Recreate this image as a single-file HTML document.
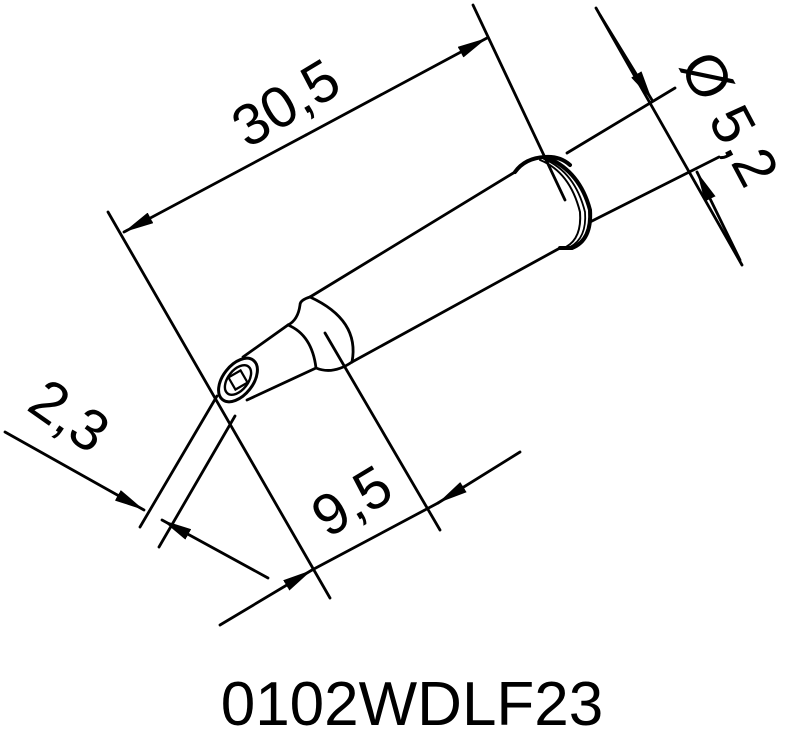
<!DOCTYPE html>
<html><head><style>html,body{margin:0;padding:0;background:#fff}svg{display:block}</style></head><body>
<svg width="800" height="750" viewBox="0 0 800 750" xmlns="http://www.w3.org/2000/svg">
<defs>
<marker id="a" markerWidth="30" markerHeight="12" refX="30" refY="6" orient="auto" markerUnits="userSpaceOnUse">
<path d="M0,0 L30,6 L0,12 Z" fill="#000"/>
</marker>
</defs>
<g stroke="#000" stroke-width="2.8" fill="none" stroke-linecap="round">
<!-- 30,5 -->
<line x1="108" y1="212" x2="330" y2="598"/>
<line x1="473" y1="5" x2="565" y2="200"/>
<line x1="306" y1="135" x2="487" y2="38" marker-end="url(#a)"/>
<line x1="306" y1="135" x2="124" y2="232" marker-end="url(#a)"/>
<!-- shaft -->
<path d="M310,297 L515,172"/>
<path d="M352,362 L560,248"/>
<path d="M567,153 L675,88"/>
<path d="M590,222 L719,157"/>
<path d="M515,172 Q525,158 545,157 Q560,156 570,165" stroke-width="4"/>
<path d="M548,158 Q580,172 590,210 Q592,240 572,248 L560,248" stroke-width="4"/>
<path d="M540,160 Q570,172 580,212 Q582,238 566,247" stroke-width="2"/>
<path d="M544,159 Q575,172 585,212 Q587,238 570,247" stroke-width="1.8"/>
<path d="M310,297 Q360,320 352,362"/>
<path d="M310,297 Q300,300 300,305 Q298,320 288,325 L243,357"/>
<path d="M288,325 Q312,335 316,368 Q333,375 352,362"/>
<path d="M316,368 L247,400"/>
<path d="M325,333 L440,530"/>
<!-- tip face -->
<ellipse cx="238" cy="380" rx="25" ry="15" transform="rotate(-52 238 380)" stroke-width="3"/>
<ellipse cx="238" cy="380" rx="17" ry="10" transform="rotate(-52 238 380)" stroke-width="2.4"/>
<rect x="231" y="373" width="14" height="14" transform="rotate(-30 238 380)" stroke-width="2.2"/>
<!-- 9,5 -->
<line x1="220" y1="625" x2="312" y2="570" marker-end="url(#a)"/>
<line x1="520" y1="452" x2="438" y2="503" marker-end="url(#a)"/>
<line x1="312" y1="570" x2="438" y2="503"/>
<!-- 2,3 -->
<line x1="217" y1="396" x2="140" y2="527"/>
<line x1="235" y1="416" x2="159" y2="547"/>
<line x1="5" y1="432" x2="144" y2="510" marker-end="url(#a)"/>
<line x1="268" y1="578" x2="162" y2="520" marker-end="url(#a)"/>
<!-- Ø5,2 -->
<line x1="596" y1="8" x2="742" y2="265"/>
<line x1="600" y1="15" x2="652" y2="100" marker-end="url(#a)"/>
<line x1="740" y1="260" x2="697" y2="172" marker-end="url(#a)"/>
</g>
<g font-family="Liberation Sans, sans-serif" fill="#000">
<text x="296" y="120" font-size="58" text-anchor="middle" transform="rotate(-31 296 120)">30,5</text>
<text x="362" y="518" font-size="58" text-anchor="middle" transform="rotate(-31 362 518)">9,5</text>
<text x="58" y="432" font-size="58" text-anchor="middle" transform="rotate(35 58 432)">2,3</text>
<text x="712" y="128" font-size="58" text-anchor="middle" transform="rotate(62 712 128)">Ø 5,2</text>
<text x="412" y="725" font-size="62" text-anchor="middle">0102WDLF23</text>
</g>
</svg>
</body></html>
